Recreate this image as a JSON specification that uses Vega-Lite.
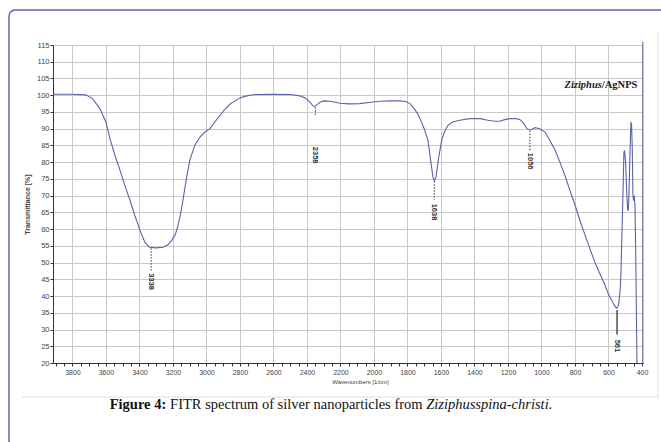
{
  "$schema": "https://vega.github.io/schema/vega-lite/v6.json",
  "width": 590,
  "height": 318,
  "autosize": "none",
  "padding": {"left": 53, "top": 45, "right": 18, "bottom": 79},
  "background": "white",
  "config": {
    "view": {"stroke": null},
    "axis": {
      "labelFont": "Liberation Sans Narrow, Arial Narrow, Liberation Sans, sans-serif",
      "titleFont": "Liberation Sans Narrow, Arial Narrow, Liberation Sans, sans-serif",
      "labelColor": "#444444",
      "titleColor": "#444444",
      "domainColor": "#333333",
      "tickColor": "#333333",
      "gridColor": "#c8c8c8"
    }
  },
  "resolve": {"axis": {"x": "independent", "y": "independent"}},
  "datasets": {
    "one": [{}],
    "spectrum": [
      {"wn": 3916, "t": 100.3}, {"wn": 3800, "t": 100.3}, {"wn": 3720, "t": 100.1}, {"wn": 3680, "t": 99},
      {"wn": 3636, "t": 96}, {"wn": 3600, "t": 92}, {"wn": 3576, "t": 87}, {"wn": 3546, "t": 82},
      {"wn": 3516, "t": 77.6}, {"wn": 3487, "t": 73}, {"wn": 3457, "t": 68.7}, {"wn": 3427, "t": 64},
      {"wn": 3397, "t": 59.7}, {"wn": 3367, "t": 56}, {"wn": 3340, "t": 54.6}, {"wn": 3300, "t": 54.4},
      {"wn": 3260, "t": 54.6}, {"wn": 3230, "t": 55.3}, {"wn": 3206, "t": 56.7}, {"wn": 3185, "t": 58.5},
      {"wn": 3170, "t": 61}, {"wn": 3155, "t": 64.5}, {"wn": 3140, "t": 68.7}, {"wn": 3120, "t": 75},
      {"wn": 3099, "t": 80.6}, {"wn": 3070, "t": 85}, {"wn": 3039, "t": 87.5}, {"wn": 3009, "t": 89},
      {"wn": 2979, "t": 90}, {"wn": 2950, "t": 92}, {"wn": 2919, "t": 94}, {"wn": 2890, "t": 95.8},
      {"wn": 2860, "t": 97.3}, {"wn": 2830, "t": 98.3}, {"wn": 2800, "t": 99.2}, {"wn": 2760, "t": 99.8},
      {"wn": 2710, "t": 100.2}, {"wn": 2600, "t": 100.3}, {"wn": 2500, "t": 100.2}, {"wn": 2442, "t": 99.8},
      {"wn": 2410, "t": 99.2}, {"wn": 2394, "t": 98.5}, {"wn": 2375, "t": 97.5}, {"wn": 2364, "t": 96.8},
      {"wn": 2355, "t": 96.6}, {"wn": 2340, "t": 97.2}, {"wn": 2322, "t": 97.9}, {"wn": 2300, "t": 98.3},
      {"wn": 2260, "t": 98.2}, {"wn": 2203, "t": 97.6}, {"wn": 2150, "t": 97.4}, {"wn": 2084, "t": 97.5},
      {"wn": 2020, "t": 97.9}, {"wn": 1964, "t": 98.2}, {"wn": 1900, "t": 98.3}, {"wn": 1845, "t": 98.3},
      {"wn": 1810, "t": 98.1}, {"wn": 1785, "t": 97.5}, {"wn": 1760, "t": 96}, {"wn": 1740, "t": 94.5},
      {"wn": 1725, "t": 93}, {"wn": 1700, "t": 90}, {"wn": 1678, "t": 86.6}, {"wn": 1660, "t": 80},
      {"wn": 1648, "t": 75.5}, {"wn": 1640, "t": 74.5}, {"wn": 1630, "t": 75.5}, {"wn": 1615, "t": 81},
      {"wn": 1594, "t": 87}, {"wn": 1575, "t": 89.5}, {"wn": 1558, "t": 91}, {"wn": 1530, "t": 92},
      {"wn": 1487, "t": 92.5}, {"wn": 1430, "t": 93}, {"wn": 1367, "t": 93}, {"wn": 1320, "t": 92.5},
      {"wn": 1280, "t": 92.2}, {"wn": 1248, "t": 92.2}, {"wn": 1220, "t": 92.7}, {"wn": 1188, "t": 93},
      {"wn": 1150, "t": 93}, {"wn": 1128, "t": 92.7}, {"wn": 1105, "t": 91.5}, {"wn": 1087, "t": 90},
      {"wn": 1070, "t": 89.6}, {"wn": 1050, "t": 90}, {"wn": 1039, "t": 90.3}, {"wn": 1010, "t": 90},
      {"wn": 979, "t": 89}, {"wn": 950, "t": 86.5}, {"wn": 919, "t": 83.6}, {"wn": 890, "t": 80},
      {"wn": 860, "t": 76}, {"wn": 830, "t": 71.5}, {"wn": 800, "t": 67.2}, {"wn": 770, "t": 62.5},
      {"wn": 740, "t": 58.2}, {"wn": 710, "t": 54}, {"wn": 681, "t": 50.1}, {"wn": 650, "t": 46.5},
      {"wn": 621, "t": 43.3}, {"wn": 600, "t": 40.5}, {"wn": 579, "t": 38.5}, {"wn": 560, "t": 36.8},
      {"wn": 550, "t": 36.4}, {"wn": 540, "t": 37.2}, {"wn": 530, "t": 42}, {"wn": 525, "t": 48},
      {"wn": 518, "t": 62}, {"wn": 513, "t": 72}, {"wn": 508, "t": 83}, {"wn": 504, "t": 83.5},
      {"wn": 498, "t": 80}, {"wn": 492, "t": 72}, {"wn": 486, "t": 66}, {"wn": 482, "t": 65.5},
      {"wn": 478, "t": 70}, {"wn": 472, "t": 82}, {"wn": 466, "t": 92}, {"wn": 462, "t": 91},
      {"wn": 458, "t": 84}, {"wn": 454, "t": 70}, {"wn": 450, "t": 68.5}, {"wn": 446, "t": 70},
      {"wn": 442, "t": 67}, {"wn": 438, "t": 55}, {"wn": 434, "t": 38}, {"wn": 430, "t": 20}
    ],
    "peaks": [
      {"wn": 3330, "top": 54.3, "bottom": 47.6, "ly": 44.3, "label": "3338"},
      {"wn": 2350, "top": 96.4, "bottom": 94, "ly": 82.1, "label": "2358"},
      {"wn": 1640, "top": 74.3, "bottom": 68.7, "ly": 65.1, "label": "1638"},
      {"wn": 1069, "top": 89.4, "bottom": 83.3, "ly": 80.3, "label": "1056"},
      {"wn": 549, "top": 35.8, "bottom": 28.5, "ly": 25.1, "label": "561"}
    ]
  },
  "layer": [
    {
      "data": {"name": "one"},
      "mark": {"type": "rect", "fill": "white", "fillOpacity": 0, "stroke": "#6a60a8", "strokeWidth": 1.5, "cornerRadius": 6},
      "encoding": {
        "x": {"datum": 4178.7, "type": "quantitative", "axis": null},
        "x2": {"datum": 0},
        "y": {"datum": 125.45, "type": "quantitative", "axis": null},
        "y2": {"datum": -5}
      }
    },
    {
      "data": {"name": "one"},
      "mark": {"type": "rule", "color": "#dedede", "strokeWidth": 1},
      "encoding": {
        "x": {"datum": 4101, "type": "quantitative", "axis": null},
        "x2": {"datum": 304.5},
        "y": {"datum": 9.84, "type": "quantitative", "axis": null}
      }
    },
    {
      "data": {"name": "one"},
      "mark": {"type": "rule", "color": "#e4e4e4", "strokeWidth": 1},
      "encoding": {
        "x": {"datum": 304.5, "type": "quantitative", "axis": null},
        "y": {"datum": 118.9, "type": "quantitative", "axis": null},
        "y2": {"datum": 9.84}
      }
    },
    {
      "data": {"name": "spectrum"},
      "mark": {"type": "line", "color": "#5a64a6", "strokeWidth": 1.1, "clip": true},
      "encoding": {
        "x": {
          "field": "wn", "type": "quantitative",
          "scale": {"domain": [394, 3916], "reverse": true, "nice": false, "zero": false},
          "axis": {
            "orient": "bottom",
            "title": "Wavenumbers [1/cm]",
            "values": [3900, 3850, 3800, 3750, 3700, 3650, 3600, 3550, 3500, 3450, 3400, 3350, 3300, 3250, 3200, 3150, 3100, 3050, 3000, 2950, 2900, 2850, 2800, 2750, 2700, 2650, 2600, 2550, 2500, 2450, 2400, 2350, 2300, 2250, 2200, 2150, 2100, 2050, 2000, 1950, 1900, 1850, 1800, 1750, 1700, 1650, 1600, 1550, 1500, 1450, 1400, 1350, 1300, 1250, 1200, 1150, 1100, 1050, 1000, 950, 900, 850, 800, 750, 700, 650, 600, 550, 500, 450, 400],
            "labelExpr": "datum.value % 200 === 0 ? '' + datum.value : ''",
            "labelOverlap": false, "labelFlush": false,
            "labelFontSize": 7, "titleFontSize": 6, "titleFontWeight": "normal",
            "tickSize": 3, "labelPadding": 2, "titlePadding": 3, "titleX": 307,
            "grid": true,
            "gridOpacity": {"condition": {"test": "datum.value % 200 === 0", "value": 1}, "value": 0},
            "domainWidth": 1
          }
        },
        "y": {
          "field": "t", "type": "quantitative",
          "scale": {"domain": [20, 115], "nice": false, "zero": false},
          "axis": {
            "orient": "left",
            "title": "Transmittance [%]",
            "values": [20, 25, 30, 35, 40, 45, 50, 55, 60, 65, 70, 75, 80, 85, 90, 95, 100, 105, 110, 115],
            "format": "d", "labelOverlap": false, "labelFlush": false,
            "labelFontSize": 7.5, "titleFontSize": 7, "titleFontWeight": "bold",
            "tickSize": 3, "labelPadding": 1, "titlePadding": 6,
            "grid": true, "domainWidth": 1
          }
        }
      }
    },
    {
      "data": {"name": "one"},
      "mark": {"type": "rule", "color": "#5a64a6", "strokeWidth": 1.1},
      "encoding": {
        "x": {"datum": 395, "type": "quantitative", "axis": null},
        "y": {"datum": 20, "type": "quantitative", "axis": null},
        "y2": {"datum": 116}
      }
    },
    {
      "data": {"name": "peaks"},
      "transform": [{"filter": "datum.label != '561'"}],
      "mark": {"type": "rule", "color": "#333333", "strokeWidth": 1, "strokeDash": [1.5, 1.5]},
      "encoding": {
        "x": {"field": "wn", "type": "quantitative", "axis": null},
        "y": {"field": "top", "type": "quantitative", "axis": null},
        "y2": {"field": "bottom"}
      }
    },
    {
      "data": {"name": "peaks"},
      "transform": [{"filter": "datum.label == '561'"}],
      "mark": {"type": "rule", "color": "#222222", "strokeWidth": 1.2},
      "encoding": {
        "x": {"field": "wn", "type": "quantitative", "axis": null},
        "y": {"field": "top", "type": "quantitative", "axis": null},
        "y2": {"field": "bottom"}
      }
    },
    {
      "data": {"name": "peaks"},
      "mark": {"type": "text", "angle": 90, "align": "center", "baseline": "middle", "fontSize": 7.5, "fontWeight": "bold", "color": "#333333", "font": "Liberation Sans Narrow, Arial Narrow, Liberation Sans, sans-serif"},
      "encoding": {
        "x": {"field": "wn", "type": "quantitative", "axis": null},
        "y": {"field": "ly", "type": "quantitative", "axis": null},
        "text": {"field": "label"}
      }
    },
    {
      "data": {"name": "one"},
      "mark": {"type": "text", "align": "right", "baseline": "middle", "font": "Liberation Serif", "fontSize": 10.5, "fontWeight": "bold", "fontStyle": "italic", "color": "#1a1a1a"},
      "encoding": {
        "x": {"datum": 639.5, "type": "quantitative", "axis": null},
        "y": {"datum": 103.05, "type": "quantitative", "axis": null},
        "text": {"value": "Ziziphus"}
      }
    },
    {
      "data": {"name": "one"},
      "mark": {"type": "text", "align": "left", "baseline": "middle", "font": "Liberation Serif", "fontSize": 10.5, "fontWeight": "bold", "color": "#1a1a1a"},
      "encoding": {
        "x": {"datum": 639.5, "type": "quantitative", "axis": null},
        "y": {"datum": 103.05, "type": "quantitative", "axis": null},
        "text": {"value": "/AgNPS"}
      }
    },
    {
      "data": {"name": "one"},
      "mark": {"type": "text", "align": "left", "baseline": "middle", "font": "Liberation Serif", "fontSize": 14.5, "fontWeight": "bold", "color": "#111111"},
      "encoding": {
        "x": {"datum": 3577.5, "type": "quantitative", "axis": null},
        "y": {"datum": 7.45, "type": "quantitative", "axis": null},
        "text": {"value": "Figure 4:"}
      }
    },
    {
      "data": {"name": "one"},
      "mark": {"type": "text", "align": "left", "baseline": "middle", "font": "Liberation Serif", "fontSize": 14.5, "color": "#111111"},
      "encoding": {
        "x": {"datum": 3217, "type": "quantitative", "axis": null},
        "y": {"datum": 7.45, "type": "quantitative", "axis": null},
        "text": {"value": "FITR spectrum of silver nanoparticles from"}
      }
    },
    {
      "data": {"name": "one"},
      "mark": {"type": "text", "align": "left", "baseline": "middle", "font": "Liberation Serif", "fontSize": 14.5, "fontStyle": "italic", "color": "#111111"},
      "encoding": {
        "x": {"datum": 1688.2, "type": "quantitative", "axis": null},
        "y": {"datum": 7.45, "type": "quantitative", "axis": null},
        "text": {"value": "Ziziphusspina-christi."}
      }
    }
  ]
}
